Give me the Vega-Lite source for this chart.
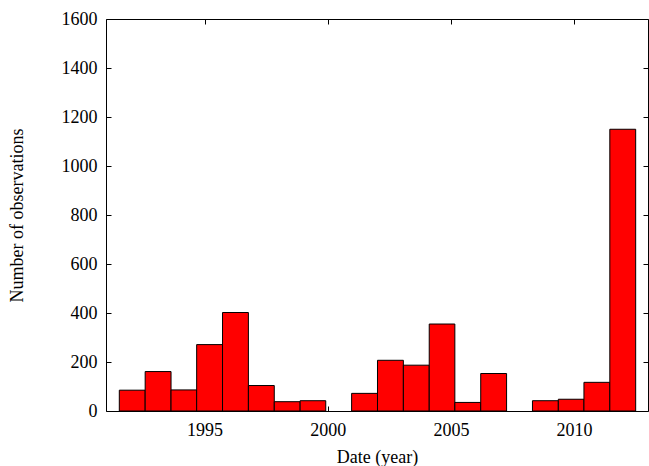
{
  "$schema": "https://vega.github.io/schema/vega-lite/v6.json",
  "autosize": {"type": "none"},
  "width": 542,
  "height": 392,
  "padding": {"left": 106, "top": 19, "right": 1, "bottom": 55},
  "background": "white",
  "config": {
    "font": "Liberation Serif",
    "view": {"stroke": "black", "strokeWidth": 1},
    "axis": {
      "domain": false,
      "grid": false,
      "tickColor": "black",
      "tickSize": -5,
      "labelFont": "Liberation Serif",
      "labelFontSize": 18,
      "labelColor": "black",
      "titleFont": "Liberation Serif",
      "titleFontSize": 18,
      "titleFontWeight": "normal",
      "titleColor": "black"
    }
  },
  "data": {
    "values": [
      {"start": 1991.54, "end": 1992.59, "count": 85},
      {"start": 1992.59, "end": 1993.64, "count": 161},
      {"start": 1993.64, "end": 1994.68, "count": 86},
      {"start": 1994.68, "end": 1995.73, "count": 271},
      {"start": 1995.73, "end": 1996.78, "count": 402},
      {"start": 1996.78, "end": 1997.83, "count": 104},
      {"start": 1997.83, "end": 1998.88, "count": 38},
      {"start": 1998.88, "end": 1999.92, "count": 42},
      {"start": 2000.97, "end": 2002.02, "count": 72},
      {"start": 2002.02, "end": 2003.07, "count": 207},
      {"start": 2003.07, "end": 2004.12, "count": 187},
      {"start": 2004.12, "end": 2005.16, "count": 355},
      {"start": 2005.16, "end": 2006.21, "count": 35},
      {"start": 2006.21, "end": 2007.26, "count": 153},
      {"start": 2008.31, "end": 2009.36, "count": 42},
      {"start": 2009.36, "end": 2010.40, "count": 48},
      {"start": 2010.40, "end": 2011.45, "count": 117},
      {"start": 2011.45, "end": 2012.50, "count": 1150}
    ]
  },
  "layer": [
    {
      "mark": {"type": "bar", "fill": "#ff0000", "stroke": "black", "strokeWidth": 1},
      "encoding": {
        "x": {
          "field": "start", "type": "quantitative",
          "scale": {"domain": [1991, 2013], "nice": false, "zero": false},
          "axis": {"orient": "bottom", "values": [1995, 2000, 2005, 2010], "format": "d", "title": "Date (year)", "labelPadding": 15, "titleY": 37}
        },
        "x2": {"field": "end"},
        "y": {
          "field": "count", "type": "quantitative",
          "scale": {"domain": [0, 1600], "nice": false},
          "axis": {"orient": "left", "values": [0, 200, 400, 600, 800, 1000, 1200, 1400, 1600], "format": "d", "title": "Number of observations", "labelPadding": 14, "titleX": -89, "titleBaseline": "middle", "titleAlign": "center"}
        },
        "y2": {"datum": 0}
      }
    },
    {
      "mark": {"type": "bar", "opacity": 0},
      "encoding": {
        "x": {
          "field": "start", "type": "quantitative",
          "axis": {"orient": "top", "values": [1995, 2000, 2005, 2010], "labels": false, "title": null}
        },
        "x2": {"field": "end"},
        "y": {
          "field": "count", "type": "quantitative",
          "axis": {"orient": "right", "values": [0, 200, 400, 600, 800, 1000, 1200, 1400, 1600], "labels": false, "title": null}
        },
        "y2": {"datum": 0}
      }
    }
  ],
  "resolve": {"axis": {"x": "independent", "y": "independent"}}
}
